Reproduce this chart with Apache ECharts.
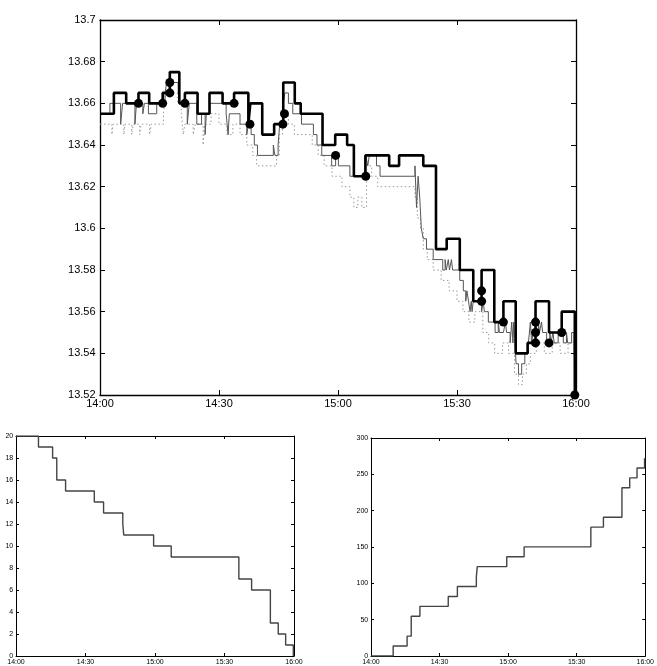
<!DOCTYPE html>
<html>
<head>
<meta charset="utf-8">
<script src="https://cdn.jsdelivr.net/npm/echarts@6/dist/echarts.min.js"></script>
<style>
html, body { margin: 0; padding: 0; background: #fff; }
#chart { width: 657px; height: 666px; }
</style>
</head>
<body>
<div id="chart"></div>
<script>
// all times are minutes after 14:00
var xTicks = ['14:00', '14:30', '15:00', '15:30', '16:00'];

// thick step line
var askPrice = [
  [0, 13.655], [3.5, 13.665], [6.6, 13.66], [9.7, 13.665], [12.4, 13.66], [15.8, 13.665],
  [17.6, 13.675], [20, 13.66], [21.4, 13.665], [24.6, 13.655], [27.6, 13.665], [30.9, 13.66],
  [33.8, 13.665], [37.4, 13.65], [37.9, 13.66], [40.9, 13.645], [43.9, 13.65], [46.2, 13.67],
  [49.1, 13.66], [50.6, 13.655], [56.1, 13.64], [59.3, 13.645], [62.3, 13.64], [64.0, 13.625],
  [66.9, 13.635], [72.9, 13.63], [75.4, 13.635], [81.5, 13.63], [84.7, 13.59], [87.4, 13.595],
  [90.7, 13.58], [94.1, 13.565], [96.2, 13.58], [99.4, 13.555], [101.7, 13.565], [104.8, 13.54],
  [107.8, 13.545], [109.8, 13.565], [113.2, 13.55], [116.4, 13.56], [119.7, 13.52], [120, 13.52]
];

// thin step line
var bidPrice = [
  [0, 13.655], [2.5, 13.66], [5.2, 13.65], [5.7, 13.66], [8.8, 13.65], [9.2, 13.66],
  [10.8, 13.655], [11.2, 13.66], [12.2, 13.655], [14.3, 13.66], [16.4, 13.665], [16.8, 13.67],
  [19.7, 13.665], [20.2, 13.66], [22.0, 13.65], [22.5, 13.66], [24.4, 13.65], [25.6, 13.655],
  [26.5, 13.645], [26.8, 13.655], [27.7, 13.66], [31.8, 13.655], [32.3, 13.645], [32.6, 13.655],
  [35.3, 13.65], [37.0, 13.645], [37.4, 13.65], [38.1, 13.645], [38.9, 13.64], [39.7, 13.635],
  [43.7, 13.64], [44.1, 13.635], [44.9, 13.64], [45.3, 13.65], [46.2, 13.66], [46.6, 13.665],
  [47.5, 13.66], [48.6, 13.655], [50.8, 13.65], [53.8, 13.645], [54.7, 13.64], [55.9, 13.635],
  [58.4, 13.63], [59.4, 13.635], [60.1, 13.63], [63.0, 13.625], [67.0, 13.635], [67.5, 13.63],
  [67.9, 13.635], [69.7, 13.63], [70.6, 13.625], [79.4, 13.63], [79.8, 13.61], [80.2, 13.625],
  [80.6, 13.615], [81.0, 13.6], [81.5, 13.595], [82.3, 13.59], [84.0, 13.585], [86.4, 13.58],
  [87.0, 13.585], [87.3, 13.58], [87.8, 13.585], [88.1, 13.58], [88.6, 13.585], [88.9, 13.58],
  [90.7, 13.575], [91.6, 13.57], [92.2, 13.565], [92.5, 13.57], [92.9, 13.565], [93.3, 13.56],
  [93.6, 13.565], [93.8, 13.56], [94.1, 13.565], [96.2, 13.56], [96.6, 13.565], [96.9, 13.56],
  [97.9, 13.555], [99.6, 13.55], [100.4, 13.555], [100.7, 13.55], [101.7, 13.55], [102.2, 13.555],
  [102.5, 13.55], [103.4, 13.545], [103.8, 13.555], [104.1, 13.545], [104.3, 13.555], [104.6, 13.545],
  [104.9, 13.535], [105.5, 13.53], [106.3, 13.535], [107.1, 13.54], [108.0, 13.545], [108.5, 13.555],
  [108.8, 13.545], [109.2, 13.55], [110.5, 13.555], [110.8, 13.55], [111.3, 13.555], [111.6, 13.55],
  [112.6, 13.545], [113.4, 13.55], [113.7, 13.545], [114.2, 13.55], [114.5, 13.545], [115.5, 13.55],
  [116.8, 13.545], [117.6, 13.55], [117.9, 13.545], [118.9, 13.55], [119.5, 13.545], [119.8, 13.52],
  [120, 13.52]
];

// dotted step line
var lowPrice = [
  [0, 13.65], [3.0, 13.645], [3.3, 13.65], [6.0, 13.645], [6.3, 13.65], [8.0, 13.645],
  [8.4, 13.65], [10.0, 13.645], [10.4, 13.65], [12.5, 13.645], [12.9, 13.65], [16.0, 13.655],
  [16.5, 13.665], [19.5, 13.66], [20.5, 13.655], [21.0, 13.645], [21.4, 13.65], [23.5, 13.645],
  [24.0, 13.65], [26.0, 13.64], [26.4, 13.65], [28.0, 13.655], [30.0, 13.65], [32.0, 13.645],
  [33.5, 13.65], [35.3, 13.645], [37.0, 13.64], [38.5, 13.635], [39.5, 13.63], [44.5, 13.635],
  [45.2, 13.645], [46.0, 13.655], [47.5, 13.65], [49.0, 13.645], [53.5, 13.64], [55.0, 13.635],
  [56.5, 13.63], [58.5, 13.625], [61.0, 13.62], [63.0, 13.615], [64.0, 13.61], [65.0, 13.615],
  [66.0, 13.61], [67.2, 13.63], [68.5, 13.625], [70.0, 13.62], [79.4, 13.615], [80.0, 13.605],
  [80.8, 13.6], [81.5, 13.59], [82.5, 13.585], [84.0, 13.58], [86.0, 13.575], [88.0, 13.57],
  [90.0, 13.565], [91.5, 13.56], [93.0, 13.555], [94.5, 13.56], [96.5, 13.55], [98.0, 13.545],
  [99.5, 13.54], [101.5, 13.545], [103.0, 13.54], [104.5, 13.53], [105.5, 13.525], [106.5, 13.53],
  [107.5, 13.535], [108.5, 13.54], [110.0, 13.545], [112.0, 13.54], [114.0, 13.545], [116.0, 13.54],
  [118.0, 13.545], [119.7, 13.52], [120, 13.52]
];

// fills (dots)
var fillTimes = [9.7, 15.8, 17.6, 17.6, 21.4, 33.8, 37.8, 46.1, 46.5, 59.4, 67.0, 96.2, 96.2,
  101.7, 109.8, 109.8, 109.8, 113.2, 116.4, 119.7];
var fillPrices = [13.66, 13.66, 13.665, 13.67, 13.66, 13.66, 13.65, 13.65, 13.655, 13.635, 13.625,
  13.57, 13.565, 13.555, 13.555, 13.55, 13.545, 13.545, 13.55, 13.52];

// lower panels
var stepTimes = [9.7, 15.8, 17.6, 21.4, 33.8, 37.8, 46.1, 46.5, 59.4, 67.0, 96.2, 101.7, 109.8,
  113.2, 116.4, 119.7];
var remaining = [19, 18, 16, 15, 14, 13, 12, 11, 10, 9, 7, 6, 3, 2, 1, 0];
var spent = [13.66, 27.32, 54.66, 68.32, 81.98, 95.63, 109.28, 122.93, 136.57, 150.19, 177.33,
  190.88, 231.53, 245.08, 258.63, 272.15];

var FONT = '"Liberation Sans", Arial, sans-serif';

function timeLabel(v) {
  return xTicks[Math.round(v / 30)] || '';
}

function makeAxes(gi, ymin, ymax, yint, fs, tick, lw, yfmt) {
  var line = { show: true, onZero: false, lineStyle: { color: '#000', width: lw } };
  var tk = { show: true, inside: true, length: tick, lineStyle: { color: '#000', width: 1 } };
  var x = [
    { gridIndex: gi, type: 'value', position: 'bottom', min: 0, max: 120, interval: 30,
      axisLine: line, axisTick: tk, splitLine: { show: false },
      axisLabel: { fontSize: fs, color: '#000', fontFamily: FONT, margin: fs * 0.35,
        formatter: timeLabel, showMinLabel: true, showMaxLabel: true } },
    { gridIndex: gi, type: 'value', position: 'top', min: 0, max: 120, interval: 30,
      axisLine: line, axisTick: tk, splitLine: { show: false }, axisLabel: { show: false } }
  ];
  var y = [
    { gridIndex: gi, type: 'value', position: 'left', min: ymin, max: ymax, interval: yint,
      axisLine: line, axisTick: tk, splitLine: { show: false },
      axisLabel: { fontSize: fs, color: '#000', fontFamily: FONT, margin: fs * 0.4,
        formatter: yfmt, showMinLabel: true, showMaxLabel: true } },
    { gridIndex: gi, type: 'value', position: 'right', min: ymin, max: ymax, interval: yint,
      axisLine: line, axisTick: tk, splitLine: { show: false }, axisLabel: { show: false } }
  ];
  return { x: x, y: y };
}

var a0 = makeAxes(0, 13.52, 13.7, 0.02, 11, 5, 1.3, function (v) { return String(parseFloat(v.toFixed(3))); });
var a1 = makeAxes(1, 0, 20, 2, 7, 3, 1, function (v) { return String(Math.round(v)); });
var a2 = makeAxes(2, 0, 300, 50, 7, 3, 1, function (v) { return String(Math.round(v)); });

var remainData = [[0, 20]];
var spentData = [[0, 0]];
for (var i = 0; i < stepTimes.length; i++) {
  remainData.push([stepTimes[i], remaining[i]]);
  spentData.push([stepTimes[i], spent[i]]);
}
remainData.push([120, remaining[remaining.length - 1]]);
spentData.push([120, spent[spent.length - 1]]);

var fills = fillTimes.map(function (t, i) { return [t, fillPrices[i]]; });

var chart = echarts.init(document.getElementById('chart'), null, { renderer: 'canvas' });
chart.setOption({
  animation: false,
  backgroundColor: '#fff',
  grid: [
    { left: 100, right: 81, top: 20, bottom: 271 },
    { left: 16, right: 363, top: 436, bottom: 10 },
    { left: 371, right: 9, top: 438, bottom: 10 }
  ],
  xAxis: a0.x.concat(a1.x, a2.x),
  yAxis: a0.y.concat(a1.y, a2.y),
  series: [
    { type: 'line', xAxisIndex: 0, yAxisIndex: 0, step: 'end', data: lowPrice, symbol: 'none',
      lineStyle: { color: '#999', width: 1, type: [1.5, 2.5] } },
    { type: 'line', xAxisIndex: 0, yAxisIndex: 0, step: 'end', data: bidPrice, symbol: 'none',
      lineStyle: { color: '#555', width: 1 } },
    { type: 'line', xAxisIndex: 0, yAxisIndex: 0, step: 'end', data: askPrice, symbol: 'none',
      lineStyle: { color: '#000', width: 2.6 } },
    { type: 'scatter', xAxisIndex: 0, yAxisIndex: 0, data: fills, symbolSize: 9,
      itemStyle: { color: '#000', opacity: 1 }, z: 5 },
    { type: 'line', xAxisIndex: 2, yAxisIndex: 2, step: 'end', data: remainData, symbol: 'none',
      lineStyle: { color: '#444', width: 1.4 } },
    { type: 'line', xAxisIndex: 4, yAxisIndex: 4, step: 'end', data: spentData, symbol: 'none',
      lineStyle: { color: '#444', width: 1.4 } }
  ]
});
</script>
</body>
</html>
